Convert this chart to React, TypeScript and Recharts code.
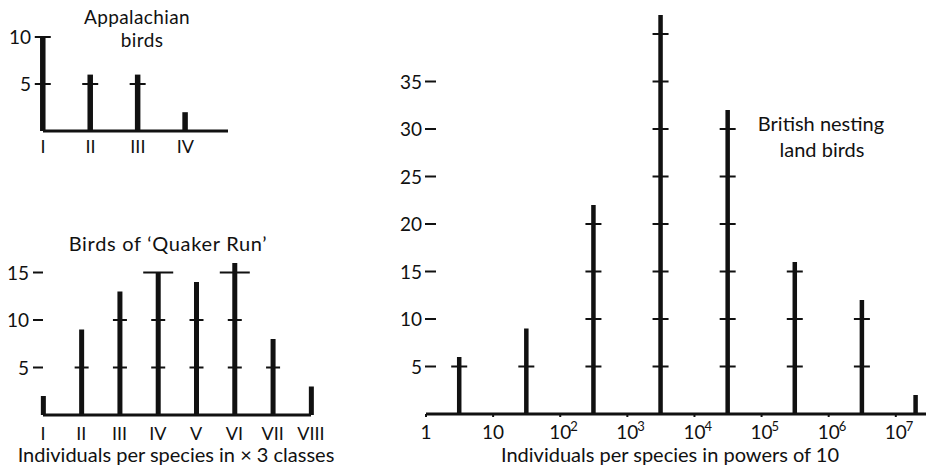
import { BarChart, Bar, XAxis, YAxis } from 'recharts';

const appalachianClasses = ['I', 'II', 'III', 'IV'];
const appalachianSpecies = [10, 6, 6, 2];

const quakerClasses = ['I', 'II', 'III', 'IV', 'V', 'VI', 'VII', 'VIII'];
const quakerSpecies = [2, 9, 13, 15, 14, 16, 8, 3];

// log10 of individuals per species (class mid-points)
const britishLogAbundance = [0.5, 1.5, 2.5, 3.5, 4.5, 5.5, 6.5, 7.3];
const britishSpecies = [6, 9, 22, 42, 32, 16, 12, 2];
const powerTicks = [0, 1, 2, 3, 4, 5, 6, 7];

const W = 926;
const H = 468;
const FONT = 'Lato, sans-serif';
const INK = '#111';
const AX_H = 30; // x axis band
const AX_W = 40; // y axis band

const appalachianData = appalachianClasses.map((c, i) => ({ x: i + 1, label: c, count: appalachianSpecies[i] }));
const quakerData = quakerClasses.map((c, i) => ({ x: i + 1, label: c, count: quakerSpecies[i] }));
const britishData = britishLogAbundance.map((x, i) => ({ x, count: britishSpecies[i] }));

// a thick stick with a short cross-stroke every 5 species
function Stick(props: any) {
  const { x, y, width, height, payload, thick, arm, wideAt, wideArm } = props;
  const v = payload.count;
  if (!v || height <= 0) return null;
  const cx = x + width / 2;
  const base = y + height;
  const unit = height / v;
  const marks: number[] = [];
  for (let k = 5; k <= v; k += 5) marks.push(k);
  return (
    <g>
      <rect x={cx - thick / 2} y={y} width={thick} height={height} fill={INK} />
      {marks.map((k) => {
        const a = k === wideAt ? wideArm : arm;
        return <rect key={k} x={cx - a} y={base - k * unit - 1} width={2 * a} height={2} fill={INK} />;
      })}
    </g>
  );
}

const axisLine = { stroke: INK, strokeWidth: 3 };

// plot box in page pixels -> chart margins
const box = (left: number, top: number, right: number, bottom: number) => ({
  top,
  left: left - AX_W,
  right: W - right,
  bottom: H - bottom - AX_H,
});

export default function App() {
  const layer: React.CSSProperties = { position: 'absolute', left: 0, top: 0 };
  return (
    <div style={{ position: 'fixed', left: 0, top: 0, width: W, height: H, background: '#fff', overflow: 'hidden' }}>
      {/* Appalachian birds */}
      <div style={layer}>
        <BarChart width={W} height={H} data={appalachianData} margin={box(43, 37, 228, 131)}>
          <XAxis
            type="number"
            dataKey="x"
            domain={[1, 4.9]}
            ticks={[1, 2, 3, 4]}
            height={AX_H}
            tickSize={0}
            tickMargin={0}
            tickLine={false}
            axisLine={axisLine}
            tick={(p: any) => (
              <text x={p.x} y={p.y + 22} textAnchor="middle" fontFamily={FONT} fontSize={18} fill={INK}>
                {appalachianClasses[p.payload.value - 1]}
              </text>
            )}
          />
          <YAxis
            type="number"
            domain={[0, 10]}
            ticks={[5, 10]}
            width={AX_W}
            tickSize={0}
            tickMargin={0}
            axisLine={false}
            tickLine={false}
            tick={(p: any) => (
              <text x={p.x - 12} y={p.y + 7} textAnchor="end" fontFamily={FONT} fontSize={19} fill={INK}>
                {p.payload.value}
              </text>
            )}
          />
          <Bar dataKey="count" barSize={5} isAnimationActive={false} shape={(p: any) => <Stick {...p} thick={5.5} arm={8} />} />
        </BarChart>
      </div>

      {/* Birds of 'Quaker Run' */}
      <div style={layer}>
        <BarChart width={W} height={H} data={quakerData} margin={box(43, 263, 311, 415)}>
          <XAxis
            type="number"
            dataKey="x"
            domain={[1, 8]}
            ticks={[1, 2, 3, 4, 5, 6, 7, 8]}
            height={AX_H}
            tickSize={0}
            tickMargin={0}
            tickLine={false}
            axisLine={axisLine}
            tick={(p: any) => (
              <text x={p.x} y={p.y + 25} textAnchor="middle" fontFamily={FONT} fontSize={18} fill={INK}>
                {quakerClasses[p.payload.value - 1]}
              </text>
            )}
          />
          <YAxis
            type="number"
            domain={[0, 16]}
            ticks={[5, 10, 15]}
            width={AX_W}
            tickSize={0}
            tickMargin={0}
            axisLine={false}
            tickLine={false}
            tick={(p: any) => (
              <g>
                <text x={p.x - 14} y={p.y + 7} textAnchor="end" fontFamily={FONT} fontSize={19} fill={INK}>
                  {p.payload.value}
                </text>
                <line x1={p.x - 10} x2={p.x} y1={p.y} y2={p.y} stroke={INK} strokeWidth={2} />
              </g>
            )}
          />
          <Bar
            dataKey="count"
            barSize={5}
            isAnimationActive={false}
            shape={(p: any) => <Stick {...p} thick={5} arm={7} wideAt={15} wideArm={15} />}
          />
        </BarChart>
      </div>

      {/* British nesting land birds */}
      <div style={layer}>
        <BarChart width={W} height={H} data={britishData} margin={box(426, 15, W, 414)}>
          <XAxis
            type="number"
            dataKey="x"
            domain={[0, 7.45]}
            ticks={powerTicks}
            height={AX_H}
            tickSize={3}
            tickMargin={0}
            tickLine={{ stroke: INK, strokeWidth: 2 }}
            axisLine={axisLine}
            tick={(p: any) => {
              const d = p.payload.value;
              const base = p.y + 22;
              if (d === 0 || d === 1) {
                return (
                  <text x={p.x} y={base} textAnchor="middle" fontFamily={FONT} fontSize={19} fill={INK}>
                    {d === 0 ? '1' : '10'}
                  </text>
                );
              }
              return (
                <g>
                  <text x={p.x} y={base} textAnchor="middle" fontFamily={FONT} fontSize={19} fill={INK}>
                    10
                  </text>
                  <text x={p.x + 10} y={base - 8} textAnchor="start" fontFamily={FONT} fontSize={13} fill={INK}>
                    {d}
                  </text>
                </g>
              );
            }}
          />
          <YAxis
            type="number"
            domain={[0, 42]}
            ticks={[5, 10, 15, 20, 25, 30, 35]}
            width={AX_W}
            tickSize={0}
            tickMargin={0}
            axisLine={false}
            tickLine={false}
            tick={(p: any) => (
              <g>
                <text x={p.x - 4} y={p.y + 7} textAnchor="end" fontFamily={FONT} fontSize={19} fill={INK}>
                  {p.payload.value}
                </text>
                <line x1={p.x - 1} x2={p.x + 10} y1={p.y} y2={p.y} stroke={INK} strokeWidth={2} />
              </g>
            )}
          />
          <Bar dataKey="count" barSize={5} isAnimationActive={false} shape={(p: any) => <Stick {...p} thick={4.5} arm={8} />} />
        </BarChart>
      </div>

      {/* titles */}
      <svg width={W} height={H} style={{ ...layer, pointerEvents: 'none' }}>
        <g fontFamily={FONT} fontSize={20} fill={INK} textAnchor="middle">
          <text x={137} y={24} fontSize={19} letterSpacing={0.4}>Appalachian</text>
          <text x={142} y={47} fontSize={19} letterSpacing={0.4}>birds</text>
          <text x={168} y={251} letterSpacing={0.7}>Birds of ‘Quaker Run’</text>
          <text x={821} y={131}>British nesting</text>
          <text x={822} y={157}>land birds</text>
          <text x={176} y={462}>Individuals per species in × 3 classes</text>
          <text x={670} y={462}>Individuals per species in powers of 10</text>
        </g>
      </svg>
    </div>
  );
}
